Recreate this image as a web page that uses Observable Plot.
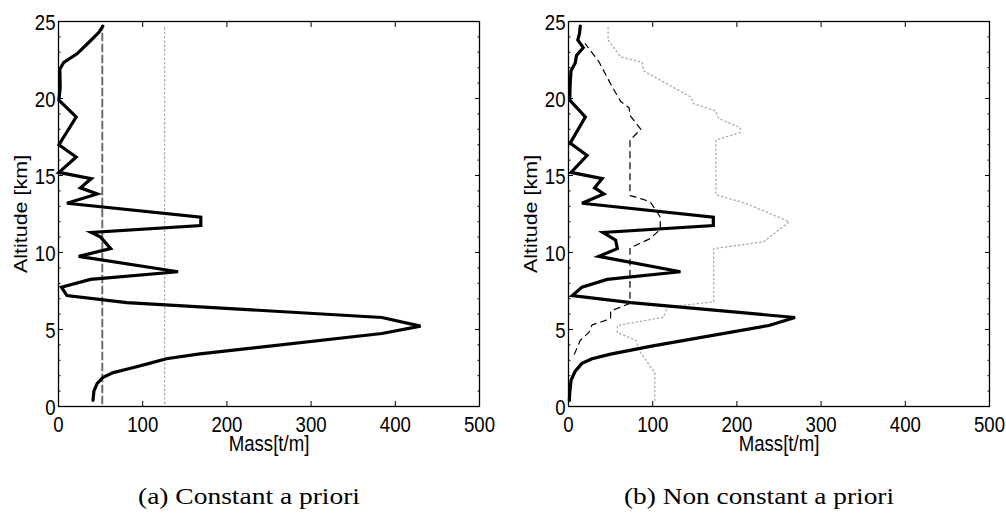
<!DOCTYPE html>
<html><head><meta charset="utf-8">
<script src="https://cdn.jsdelivr.net/npm/d3@7"></script>
<script src="https://cdn.jsdelivr.net/npm/@observablehq/plot@0.6"></script>
<style>
html,body{margin:0;padding:0;background:#fff;}
#wrap{position:relative;width:1006px;height:524px;overflow:hidden;background:#fff;}
#wrap svg{position:absolute;top:0;}
</style></head><body><div id="wrap"></div>
<script>
// ---- axis / text content ----
const xTicks = [0, 100, 200, 300, 400, 500];
const yTicks = [0, 5, 10, 15, 20, 25];
const yMinorTicks = [1,2,3,4,6,7,8,9,11,12,13,14,16,17,18,19,21,22,23,24];
const xLabel = "Mass[t/m]";
const yLabel = "Altitude [km]";
const captionA = "(a) Constant a priori";
const captionB = "(b) Non constant a priori";

// ---- panel (a): constant a priori ----
const aSolidAlt  = [0.4,1.0,1.5,1.9,2.2,2.5,2.8,3.1,3.42,4.74,5.22,5.78,6.75,7.2,7.75,8.25,8.75,9.75,10.25,11.0,11.3,11.75,12.3,13.2,13.8,14.2,14.8,15.2,16.2,17.0,18.8,19.9,20.7,21.9,22.35,22.9,23.75,24.3,24.7];
const aSolidMass = [41,42,46,53,65,87,108,128,168,384,430,384,81,10,3.5,38,142,24,62,50,39,169,169,10,46,26,39,0.5,21,0.5,21,0.5,2,1.6,6.3,22,38,48,52.6];
const aDashAlt   = [0.2, 24.7];
const aDashMass  = [52, 52];
const aDotAlt    = [0.2, 24.7];
const aDotMass   = [126, 126];

// ---- panel (b): non constant a priori ----
const bSolidAlt  = [0.4,0.9,1.7,2.3,2.8,3.1,3.4,3.9,5.26,5.78,6.75,7.2,7.75,8.25,8.75,9.75,10.25,10.8,11.3,11.75,12.3,13.2,13.8,14.2,14.8,15.2,16.3,17.1,18.8,19.9,21.0,21.8,22.3,22.8,23.3,23.8,24.2,24.7];
const bSolidMass = [1,1.5,3,8,16,28,50,97,238,269,74,4.5,16,46,133,36,58,56,41,172,172,16,42,31,40,3,22,2,20,1.5,2,3,8,9.5,17.5,11,13,14];
const bDashAlt   = [3.4,4.3,4.8,5.3,5.7,6.2,6.7,10.3,10.9,11.5,12.3,13.3,13.6,13.7,17.3,18.0,18.9,19.4,19.8,20.95,22.4,23.55];
const bDashMass  = [7,14,24,28,50,50,73,73,97,109,109,97,80,73,73,86,73,72,62,50,36,20];
const bDotAlt    = [0.4,2.2,3.5,4.3,4.8,5.26,5.8,6.45,6.8,10.25,10.7,12.0,12.7,13.2,13.75,17.3,17.8,18.1,18.7,19.2,19.65,20.1,20.95,21.8,22.35,22.7,23.8,24.7];
const bDotMass   = [102.5,102.5,85.5,80,58,58,113,117,172.5,172.5,232,262,232,210,175,175,204,204,178.5,174.6,149,145,117,89,87.5,62,47,47];

const rows = (alt, mass) => alt.map((a, i) => ({alt: a, mass: mass[i]}));

const SANS = "'Liberation Sans', Arial, Helvetica, sans-serif";
const SERIF = "'Liberation Serif', 'Times New Roman', serif";

function panel({marginLeft, marginRight, solid, dash, dashStyle, dot, dotStyle, caption, capWidth, capDx}) {
  const svg = Plot.plot({
    width: 503, height: 524,
    marginLeft, marginRight, marginTop: 21, marginBottom: 118,
    style: {background: "transparent", fontFamily: SANS, color: "#000"},
    x: {domain: [0, 500]},
    y: {domain: [0, 25]},
    marks: [
      Plot.line(dot, {x: "mass", y: "alt", ...dotStyle}),
      Plot.line(dash, {x: "mass", y: "alt", ...dashStyle}),
      Plot.line(solid, {x: "mass", y: "alt", stroke: "#000", strokeWidth: 3.2, strokeLinejoin: "miter", strokeMiterlimit: 4}),
      Plot.frame({stroke: "#000", strokeWidth: 1.3}),
      // inward ticks on all four sides
      Plot.axisX({anchor: "bottom", ticks: xTicks, tickSize: -5, fill: "none", label: null}),
      Plot.axisX({anchor: "top", ticks: xTicks, tickSize: -5, fill: "none", label: null}),
      Plot.axisY({anchor: "left", ticks: yTicks, tickSize: -5, fill: "none", label: null}),
      Plot.axisY({anchor: "right", ticks: yTicks, tickSize: -5, fill: "none", label: null}),
      Plot.axisY({anchor: "left", ticks: yMinorTicks, tickSize: -2.5, fill: "none", label: null}),
      Plot.axisY({anchor: "right", ticks: yMinorTicks, tickSize: -2.5, fill: "none", label: null}),
      // tick labels
      Plot.axisX({anchor: "bottom", ticks: xTicks, tickSize: 0, tickPadding: 10, fontSize: 21.4, label: null, stroke: "none"}),
      Plot.axisY({anchor: "left", ticks: yTicks, tickSize: 0, tickPadding: 3, dy: 2, fontSize: 21.4, label: null, stroke: "none"}),
      // axis titles
      Plot.text([xLabel], {frameAnchor: "bottom", dy: 44.5, textAnchor: "middle", lineAnchor: "bottom", fontSize: 21.4, fill: "#000"}),
      Plot.text([yLabel], {frameAnchor: "left", dx: -31.3, rotate: -90, textAnchor: "middle", lineAnchor: "bottom", fontSize: 21.5, fill: "#000"}),
      // caption
      Plot.text([caption], {frameAnchor: "bottom", dy: 97, dx: capDx, textAnchor: "middle", lineAnchor: "bottom", fontSize: 22.6, fontFamily: SERIF, fill: "#000"})
    ]
  });
  // emulate the vertically-stretched original: condense glyphs horizontally
  svg.querySelectorAll("text").forEach(t => {
    const s = t.textContent;
    const tr = t.getAttribute("transform") || "";
    if (s === yLabel) t.setAttribute("transform", tr + " scale(1,0.85)");
    else if (s === caption) { t.setAttribute("textLength", capWidth); t.setAttribute("lengthAdjust", "spacingAndGlyphs"); }
    else t.setAttribute("transform", tr + " scale(0.87,1)");
  });
  return svg;
}

const wrap = document.getElementById("wrap");
const left = panel({
  marginLeft: 58, marginRight: 24,
  solid: rows(aSolidAlt, aSolidMass),
  dash: rows(aDashAlt, aDashMass), dashStyle: {stroke: "#6e6e6e", strokeWidth: 2, strokeDasharray: "7,4"},
  dot: rows(aDotAlt, aDotMass), dotStyle: {stroke: "#a8a8a8", strokeWidth: 1.3, strokeDasharray: "1.3,3"},
  caption: captionA, capWidth: 222, capDx: -20
});
left.style.left = "0px";
const right = panel({
  marginLeft: 65, marginRight: 17,
  solid: rows(bSolidAlt, bSolidMass),
  dash: rows(bDashAlt, bDashMass), dashStyle: {stroke: "#000", strokeWidth: 1.2, strokeDasharray: "6,5"},
  dot: rows(bDotAlt, bDotMass), dotStyle: {stroke: "#a8a8a8", strokeWidth: 1.3, strokeDasharray: "1.3,3"},
  caption: captionB, capWidth: 270, capDx: -20
});
right.style.left = "503px";
wrap.append(left, right);
</script></body></html>
